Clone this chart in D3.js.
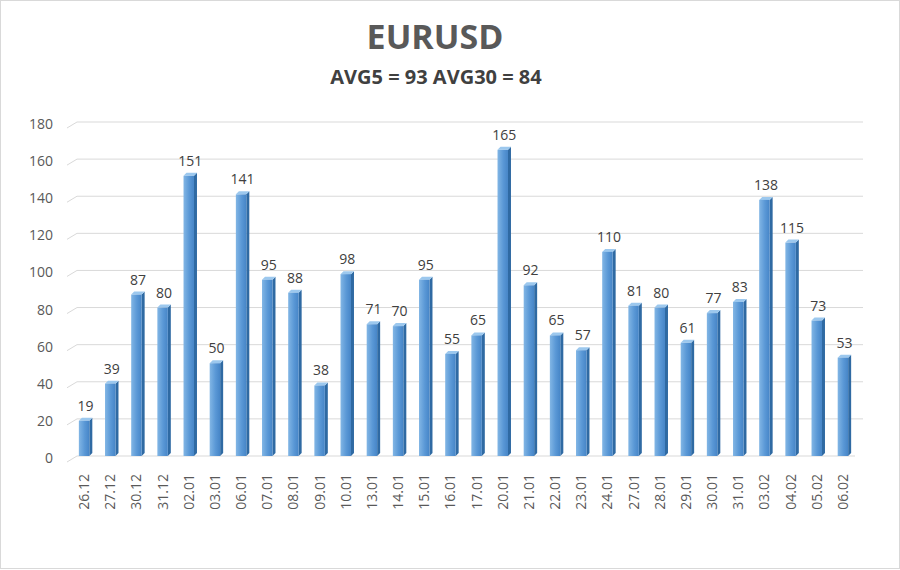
<!DOCTYPE html>
<html>
<head>
<meta charset="utf-8">
<script src="https://cdn.jsdelivr.net/npm/d3@7"></script>
<style>
    html, body { margin: 0; padding: 0; background: #fff; }
    svg { display: block; font-family: "Open Sans", sans-serif; }
</style>
</head>
<body>
<svg id="chart" width="900" height="570"></svg>
<script>
// Chart data
const categories = ['26.12', '27.12', '30.12', '31.12', '02.01', '03.01', '06.01', '07.01', '08.01', '09.01',
    '10.01', '13.01', '14.01', '15.01', '16.01', '17.01', '20.01', '21.01', '22.01', '23.01',
    '24.01', '27.01', '28.01', '29.01', '30.01', '31.01', '03.02', '04.02', '05.02', '06.02'];
const values = [19, 39, 87, 80, 151, 50, 141, 95, 88, 38,
    98, 71, 70, 95, 55, 65, 165, 92, 65, 57,
    110, 81, 80, 61, 77, 83, 138, 115, 73, 53];
const yTicks = [0, 20, 40, 60, 80, 100, 120, 140, 160, 180];
const title = 'EURUSD';
const subtitle = 'AVG5 = 93 AVG30 = 84';

const svg = d3.select('#chart');
const W = 900, H = 570;

// Outer frame
svg.append('rect')
    .attr('x', 0.5).attr('y', 0.5)
    .attr('width', W - 1).attr('height', H - 2)
    .attr('fill', '#fff')
    .attr('stroke', '#d9d9d9');

// Gradient for bar front
const defs = svg.append('defs');
const grad = defs.append('linearGradient').attr('id', 'barFront')
    .attr('x1', '0%').attr('x2', '100%').attr('y1', '0%').attr('y2', '0%');
grad.append('stop').attr('offset', '0%').attr('stop-color', '#82b6e5');
grad.append('stop').attr('offset', '55%').attr('stop-color', '#5a98d6');
grad.append('stop').attr('offset', '100%').attr('stop-color', '#4685c7');

// Scales
const x = d3.scaleBand()
    .domain(categories)
    .range([71, 856])
    .paddingInner(0.6)
    .paddingOuter(0.3);

const y = d3.scaleLinear()
    .domain([0, 180])
    .range([456, 122]);

// 3D offsets
const depthX = 10, depthY = 6;   // wall offset
const bd = 3, bdy = 3;            // bar depth

// Gridlines on back wall with slanted left segment
const grid = svg.append('g');
grid.selectAll('path')
    .data(yTicks)
    .enter()
    .append('path')
    .attr('d', d => `M67,${y(d) + depthY}L${67 + depthX},${y(d)}L${d === 0 ? 855 : 863},${y(d)}`)
    .attr('fill', 'none')
    .attr('stroke', '#d9d9d9')
    .attr('stroke-width', 1);

// Y axis labels
const yAxis = d3.axisLeft(y)
    .tickValues(yTicks)
    .tickSize(0)
    .tickPadding(0);

svg.append('g')
    .attr('transform', `translate(53, 2)`)
    .call(yAxis)
    .call(g => g.select('.domain').remove())
    .call(g => g.selectAll('text')
        .attr('font-family', '"Open Sans", sans-serif')
        .attr('font-size', 14)
        .attr('fill', '#595959'));

// Bars
const bars = svg.append('g').selectAll('g')
    .data(values)
    .enter()
    .append('g');

bars.append('path')
    .attr('d', (d, i) => {
        const x0 = x(categories[i]), x1 = x0 + x.bandwidth();
        const yt = y(d), yb = y(0);
        return `M${x1},${yt}L${x1 + bd},${yt - bdy}L${x1 + bd},${yb - bdy}L${x1},${yb}Z`;
    })
    .attr('fill', '#2f6aa3');

bars.append('path')
    .attr('d', (d, i) => {
        const x0 = x(categories[i]), x1 = x0 + x.bandwidth();
        const yt = y(d);
        return `M${x0},${yt}L${x0 + bd},${yt - bdy}L${x1 + bd},${yt - bdy}L${x1},${yt}Z`;
    })
    .attr('fill', '#9cc8ee');

bars.append('rect')
    .attr('x', (d, i) => x(categories[i]))
    .attr('y', d => y(d))
    .attr('width', x.bandwidth())
    .attr('height', d => y(0) - y(d))
    .attr('fill', 'url(#barFront)');

// Value labels
bars.append('text')
    .attr('x', (d, i) => x(categories[i]) + x.bandwidth() / 2 + 1.5)
    .attr('y', d => y(d) - 10)
    .attr('text-anchor', 'middle')
    .attr('font-size', 14)
    .attr('fill', '#404040')
    .text(d => d);

// X axis labels (rotated)
svg.append('g').selectAll('text')
    .data(categories)
    .enter()
    .append('text')
    .attr('transform', d => `translate(${x(d) + x.bandwidth() / 2 + 5}, 474) rotate(-90)`)
    .attr('text-anchor', 'end')
    .attr('font-size', 14)
    .attr('fill', '#595959')
    .text(d => d);

// Titles
svg.append('text')
    .attr('x', 435)
    .attr('y', 49)
    .attr('text-anchor', 'middle')
    .attr('font-size', 34)
    .attr('font-weight', 'bold')
    .attr('fill', '#595959')
    .text(title);

svg.append('text')
    .attr('x', 436)
    .attr('y', 84)
    .attr('text-anchor', 'middle')
    .attr('font-size', 20)
    .attr('font-weight', 'bold')
    .attr('fill', '#404040')
    .text(subtitle);
</script>
</body>
</html>
